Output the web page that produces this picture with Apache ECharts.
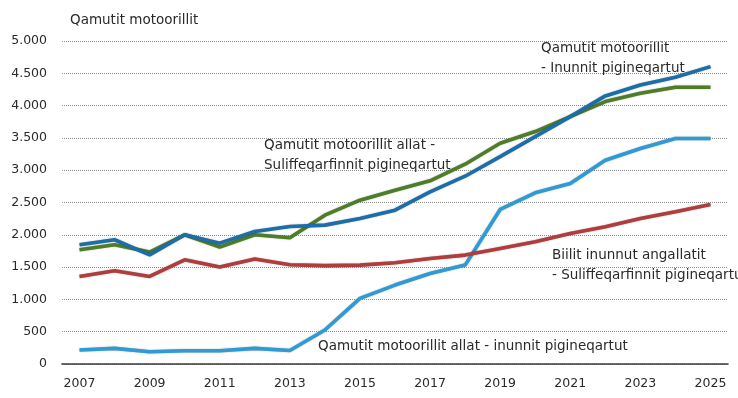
<!DOCTYPE html>
<html>
<head>
<meta charset="utf-8">
<script src="https://cdn.jsdelivr.net/npm/echarts@6/dist/echarts.min.js"></script>
<style>
  html, body { margin: 0; padding: 0; background: #fff; }
  #chart { width: 738px; height: 398px; }
</style>
</head>
<body>
<div id="chart"></div>
<script>
// years on the x axis
var years = ['2007', '2008', '2009', '2010', '2011', '2012', '2013', '2014', '2015', '2016',
  '2017', '2018', '2019', '2020', '2021', '2022', '2023', '2024', '2025'];

// Qamutit motoorillit - Inunnit pigineqartut
var inunnitMotoor = [1845, 1923, 1690, 2000, 1871, 2050, 2128, 2150, 2253, 2381,
  2665, 2907, 3211, 3520, 3830, 4150, 4320, 4438, 4603];
// Qamutit motoorillit allat - Suliffeqarfinnit pigineqartut
var suliffAllat = [1768, 1845, 1732, 2000, 1810, 2000, 1955, 2304, 2536, 2691,
  2835, 3093, 3418, 3598, 3830, 4062, 4191, 4284, 4284];
// Biilit inunnut angallatit - Suliffeqarfinnit pigineqartut
var biilit = [1356, 1443, 1356, 1613, 1500, 1624, 1536, 1523, 1531, 1567,
  1634, 1686, 1789, 1892, 2020, 2124, 2253, 2356, 2469];
// Qamutit motoorillit allat - inunnit pigineqartut
var inunnitAllat = [216, 242, 190, 206, 206, 242, 210, 526, 1015, 1222,
  1402, 1531, 2392, 2650, 2794, 3155, 3335, 3490, 3490];

var font = 'DejaVu Sans';
var txt = '#2a2a2a';

var chart = echarts.init(document.getElementById('chart'), null, { renderer: 'canvas' });

function mkLine(name, data, color) {
  return {
    name: name,
    type: 'line',
    data: data,
    symbol: 'none',
    smooth: false,
    lineStyle: { color: color, width: 3.6, shadowColor: 'rgba(0,0,0,0.35)', shadowBlur: 1.5 },
    animation: false
  };
}

function label(x, y, text) {
  return {
    type: 'text',
    left: x,
    top: y,
    style: { text: text, font: '13.5px "' + font + '"', fill: txt, lineHeight: 20 }
  };
}

var option = {
  backgroundColor: '#ffffff',
  animation: false,
  grid: { left: 62, right: 10, top: 41, bottom: 34 },
  xAxis: {
    type: 'category',
    data: years,
    boundaryGap: true,
    axisLine: { lineStyle: { color: '#3a3a3a', width: 1.6 } },
    axisTick: { show: false },
    axisLabel: { interval: 1, color: txt, fontFamily: font, fontSize: 12.5, margin: 13 }
  },
  yAxis: {
    type: 'value',
    min: 0,
    max: 5000,
    interval: 500,
    axisLine: { show: false },
    axisTick: { show: false },
    axisLabel: {
      color: txt, fontFamily: font, fontSize: 12.5, margin: 15,
      formatter: function (v) {
        return v >= 1000 ? Math.floor(v / 1000) + '.' + ('00' + (v % 1000)).slice(-3) : String(v);
      }
    },
    splitLine: { lineStyle: { color: '#8f8f8f', type: [1, 1], width: 1 } }
  },
  series: [
    mkLine('Qamutit motoorillit allat - inunnit pigineqartut', inunnitAllat, '#2e9ad6'),
    mkLine('Biilit inunnut angallatit - Suliffeqarfinnit pigineqartut', biilit, '#b23b3b'),
    mkLine('Qamutit motoorillit allat - Suliffeqarfinnit pigineqartut', suliffAllat, '#4e7d28'),
    mkLine('Qamutit motoorillit - Inunnit pigineqartut', inunnitMotoor, '#1c6ea8')
  ],
  graphic: [
    label(70, 10, 'Qamutit motoorillit'),
    label(541, 38, 'Qamutit motoorillit\n- Inunnit pigineqartut'),
    label(264, 135, 'Qamutit motoorillit allat -\nSuliffeqarfinnit pigineqartut'),
    label(552, 245, 'Biilit inunnut angallatit\n- Suliffeqarfinnit pigineqartut'),
    label(318, 336, 'Qamutit motoorillit allat - inunnit pigineqartut')
  ]
};

chart.setOption(option);
</script>
</body>
</html>
